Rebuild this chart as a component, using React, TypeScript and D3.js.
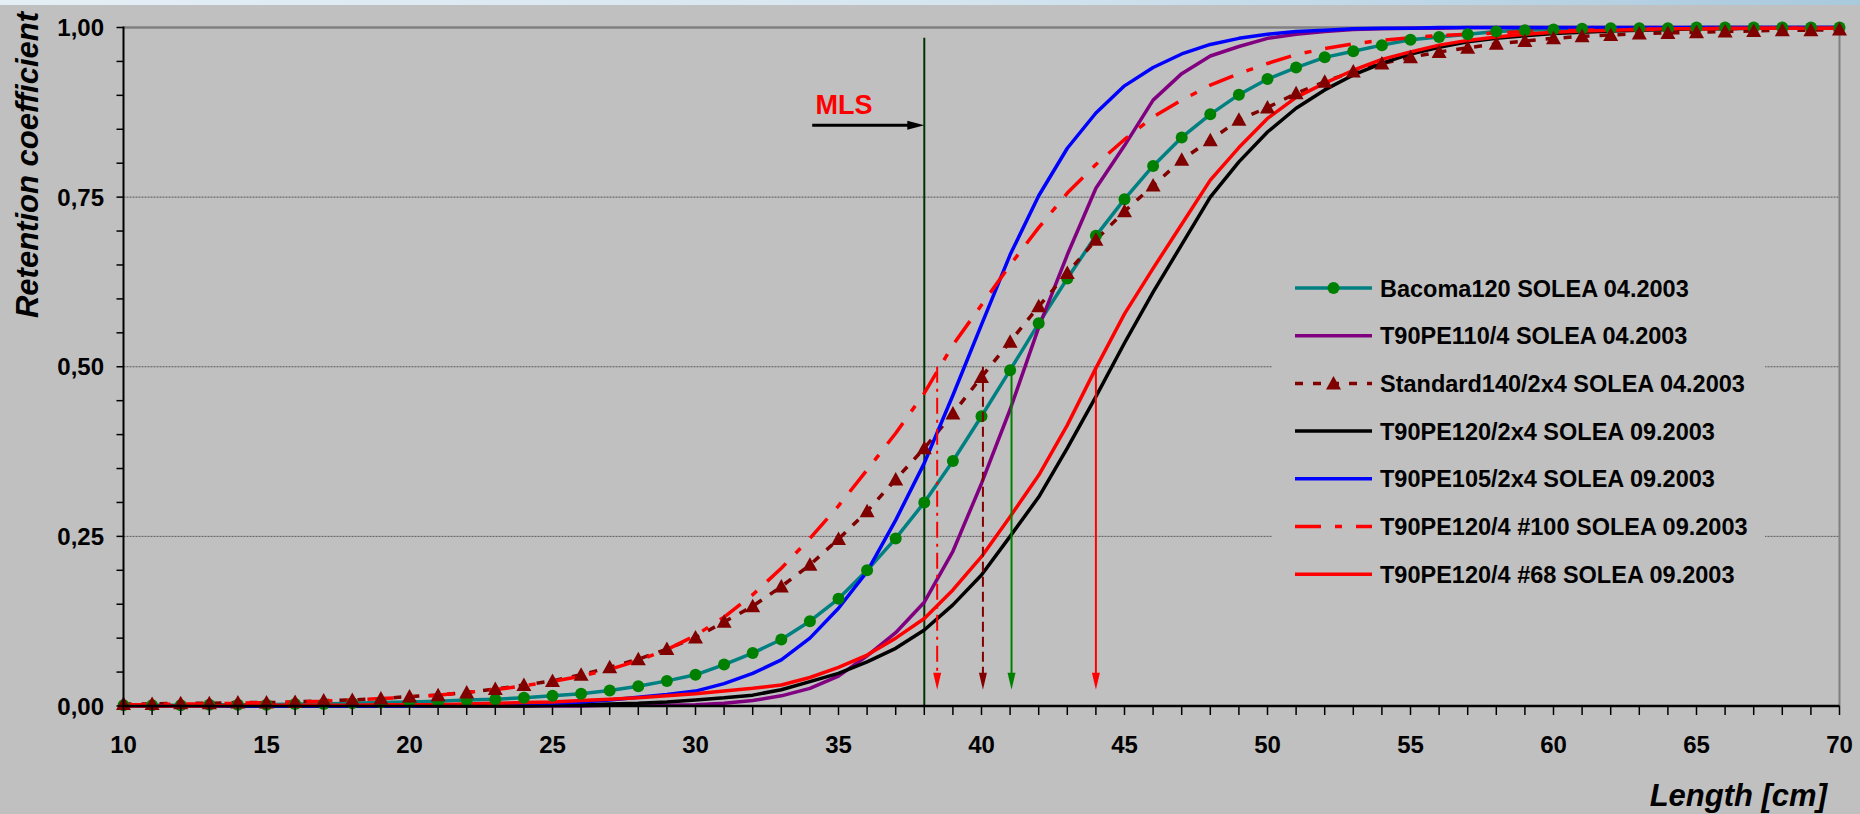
import React from 'react';
import * as d3 from 'd3';

// length classes (cm)
const lengths = [
  10, 11, 12, 13, 14, 15, 16, 17, 18, 19, 20, 21, 22, 23, 24, 25, 26, 27, 28, 29,
  30, 31, 32, 33, 34, 35, 36, 37, 38, 39, 40, 41, 42, 43, 44, 45, 46, 47, 48, 49,
  50, 51, 52, 53, 54, 55, 56, 57, 58, 59, 60, 61, 62, 63, 64, 65, 66, 67, 68, 69, 70,
];

// retention coefficients, one value per length class
const bacoma120 = [
  0.001, 0.001, 0.001, 0.002, 0.002, 0.002, 0.003, 0.003, 0.004, 0.005,
  0.006, 0.007, 0.009, 0.010, 0.012, 0.015, 0.018, 0.023, 0.029, 0.037,
  0.046, 0.061, 0.078, 0.098, 0.125, 0.158, 0.200, 0.247, 0.300, 0.361,
  0.427, 0.495, 0.564, 0.630, 0.693, 0.747, 0.796, 0.838, 0.872, 0.901,
  0.924, 0.941, 0.956, 0.965, 0.974, 0.982, 0.986, 0.990, 0.994, 0.996,
  0.997, 0.998, 0.999, 0.999, 0.999, 1.0, 1.0, 1.0, 1.0, 1.0, 1.0,
];
const t90pe110 = [
  0, 0, 0, 0, 0, 0, 0, 0, 0, 0,
  0, 0, 0, 0, 0, 0, 0, 0.001, 0.001, 0.001,
  0.002, 0.004, 0.008, 0.015, 0.026, 0.044, 0.074, 0.108, 0.153, 0.228,
  0.328, 0.437, 0.558, 0.665, 0.763, 0.826, 0.893, 0.932, 0.958, 0.972,
  0.984, 0.990, 0.994, 0.997, 0.998, 0.999, 0.999, 1.0, 1.0, 1.0,
  1.0, 1.0, 1.0, 1.0, 1.0, 1.0, 1.0, 1.0, 1.0, 1.0, 1.0,
];
const standard140 = [
  0.003, 0.003, 0.004, 0.004, 0.005, 0.005, 0.006, 0.008, 0.009, 0.011,
  0.014, 0.016, 0.020, 0.025, 0.031, 0.037, 0.046, 0.057, 0.069, 0.084,
  0.101, 0.124, 0.147, 0.176, 0.208, 0.246, 0.287, 0.334, 0.380, 0.431,
  0.485, 0.537, 0.589, 0.638, 0.687, 0.729, 0.767, 0.805, 0.834, 0.864,
  0.882, 0.903, 0.920, 0.935, 0.947, 0.956, 0.964, 0.970, 0.976, 0.980,
  0.984, 0.987, 0.989, 0.991, 0.992, 0.993, 0.994, 0.995, 0.996, 0.996, 0.997,
];
const t90pe120x2 = [
  0, 0, 0, 0, 0, 0, 0, 0, 0, 0,
  0, 0, 0, 0, 0, 0.001, 0.002, 0.003, 0.004, 0.006,
  0.009, 0.012, 0.016, 0.024, 0.036, 0.048, 0.065, 0.085, 0.112, 0.149,
  0.193, 0.250, 0.308, 0.380, 0.456, 0.535, 0.610, 0.680, 0.750, 0.802,
  0.846, 0.881, 0.908, 0.930, 0.947, 0.961, 0.971, 0.979, 0.984, 0.988,
  0.991, 0.993, 0.995, 0.996, 0.997, 0.998, 0.998, 0.999, 0.999, 0.999, 0.999,
];
const t90pe105 = [
  0, 0, 0, 0, 0, 0, 0, 0, 0, 0,
  0, 0.001, 0.001, 0.002, 0.003, 0.004, 0.006, 0.009, 0.013, 0.017,
  0.022, 0.033, 0.048, 0.068, 0.100, 0.144, 0.198, 0.274, 0.358, 0.458,
  0.562, 0.665, 0.752, 0.822, 0.874, 0.914, 0.941, 0.961, 0.975, 0.984,
  0.990, 0.994, 0.996, 0.998, 0.999, 0.999, 1.0, 1.0, 1.0, 1.0,
  1.0, 1.0, 1.0, 1.0, 1.0, 1.0, 1.0, 1.0, 1.0, 1.0, 1.0,
];
const t90pe120n100 = [
  0.002, 0.002, 0.003, 0.003, 0.004, 0.005, 0.006, 0.007, 0.009, 0.011,
  0.013, 0.016, 0.020, 0.024, 0.030, 0.036, 0.044, 0.054, 0.067, 0.083,
  0.104, 0.131, 0.164, 0.203, 0.247, 0.295, 0.348, 0.402, 0.461, 0.532,
  0.591, 0.650, 0.705, 0.756, 0.798, 0.835, 0.868, 0.893, 0.915, 0.932,
  0.947, 0.960, 0.969, 0.976, 0.981, 0.985, 0.988, 0.990, 0.992, 0.994,
  0.995, 0.996, 0.997, 0.997, 0.998, 0.998, 0.998, 0.999, 0.999, 0.999, 0.999,
];
const t90pe120n68 = [
  0, 0, 0, 0, 0.001, 0.001, 0.001, 0.001, 0.001, 0.002,
  0.002, 0.002, 0.003, 0.004, 0.005, 0.006, 0.008, 0.010, 0.012, 0.015,
  0.018, 0.022, 0.026, 0.031, 0.042, 0.057, 0.075, 0.100, 0.129, 0.171,
  0.220, 0.279, 0.340, 0.414, 0.498, 0.578, 0.645, 0.710, 0.775, 0.823,
  0.866, 0.897, 0.918, 0.937, 0.953, 0.964, 0.974, 0.981, 0.986, 0.990,
  0.993, 0.995, 0.996, 0.997, 0.998, 0.998, 0.999, 0.999, 0.999, 0.999, 0.999,
];

// annotations: minimum landing size and L50 arrows
const mls = 38;
const l50 = [38.45, 40.05, 41.05, 44.0];

const yTicks = [0, 0.25, 0.5, 0.75, 1];
const yMinor = [0.05, 0.1, 0.15, 0.2, 0.3, 0.35, 0.4, 0.45, 0.55, 0.6, 0.65, 0.7, 0.8, 0.85, 0.9, 0.95];
const xLabels = [10, 15, 20, 25, 30, 35, 40, 45, 50, 55, 60, 65, 70];

const series = [
  { name: 'Bacoma120 SOLEA 04.2003', values: bacoma120, color: '#008080', dash: null, marker: 'circle' },
  { name: 'T90PE110/4 SOLEA 04.2003', values: t90pe110, color: '#800080', dash: null, marker: null },
  { name: 'Standard140/2x4 SOLEA 04.2003', values: standard140, color: '#800000', dash: '8,10', marker: 'triangle' },
  { name: 'T90PE120/2x4 SOLEA 09.2003', values: t90pe120x2, color: '#000000', dash: null, marker: null },
  { name: 'T90PE105/2x4 SOLEA 09.2003', values: t90pe105, color: '#0000FF', dash: null, marker: null },
  { name: 'T90PE120/4 #100 SOLEA 09.2003', values: t90pe120n100, color: '#FF0000', dash: '26,14,7,14', marker: null },
  { name: 'T90PE120/4 #68 SOLEA 09.2003', values: t90pe120n68, color: '#FF0000', dash: null, marker: null },
];

const arrowStyles = [
  { color: '#FF0000', dash: '16,6,3,6' },
  { color: '#800000', dash: '10,5' },
  { color: '#008000', dash: null },
  { color: '#FF0000', dash: null },
];

const font = "'Liberation Sans', Arial, Helvetica, sans-serif";

// Excel-like triangle marker
const triPath = (cx: number, cy: number) =>
  `M${cx},${cy - 7.5} L${cx + 7.5},${cy + 6} L${cx - 7.5},${cy + 6} Z`;

export default function App() {
  const W = 1860;
  const H = 814;
  const x = d3.scaleLinear().domain([10, 70]).range([123.5, 1839.5]);
  const y = d3.scaleLinear().domain([0, 1]).range([706, 27.5]);
  const fmt = (v: number) => d3.format('.2f')(v).replace('.', ',');

  const line = (vals: number[]) =>
    d3.line<number>()
      .x((_, i) => x(lengths[i]))
      .y((d) => y(d))(vals) || '';

  const legendX0 = 1295;
  const legendX1 = 1372;
  const legendY = (i: number) => 288 + i * 47.7;

  return (
    <div style={{ position: 'absolute', left: 0, top: 0 }}>
      <svg width={W} height={H} style={{ display: 'block' }}>
        <defs>
          <linearGradient id="topband" x1="0" x2="1" y1="0" y2="0">
            <stop offset="0" stopColor="#e4eef5" />
            <stop offset="0.5" stopColor="#d6e6f0" />
            <stop offset="1" stopColor="#a9c9dd" />
          </linearGradient>
        </defs>
        <rect x={0} y={0} width={W} height={H} fill="#C0C0C0" />
        <rect x={0} y={0} width={W} height={5} fill="url(#topband)" />

        {/* gridlines */}
        {[0.25, 0.5, 0.75].map((t) => (
          <line key={t} x1={x(10)} x2={x(70)} y1={y(t)} y2={y(t)}
            stroke="#5a5a5a" strokeWidth={1} strokeDasharray="2,1" />
        ))}
        {/* plot frame (top and right) */}
        <line x1={x(10)} x2={x(70)} y1={y(1)} y2={y(1)} stroke="#808080" strokeWidth={2.5} />
        <line x1={x(70)} x2={x(70)} y1={y(1)} y2={y(0)} stroke="#808080" strokeWidth={2} />

        {/* legend background hides gridlines */}
        <rect x={1272} y={250} width={493} height={355} fill="#C0C0C0" />

        {/* MLS vertical line */}
        <line x1={x(mls)} x2={x(mls)} y1={y(0.985)} y2={y(0)} stroke="#003300" strokeWidth={2} />

        {/* series lines */}
        {series.map((s) => (
          <path key={s.name} d={line(s.values)} fill="none" stroke={s.color}
            strokeWidth={3.5} strokeDasharray={s.dash || undefined} strokeLinejoin="round" />
        ))}
        {/* markers */}
        {series.map((s) =>
          s.marker === 'circle'
            ? s.values.map((v, i) => (
                <circle key={s.name + i} cx={x(lengths[i])} cy={y(v)} r={6} fill="#008000" />
              ))
            : s.marker === 'triangle'
            ? s.values.map((v, i) => (
                <path key={s.name + i} d={triPath(x(lengths[i]), y(v))} fill="#800000" />
              ))
            : null
        )}

        {/* L50 arrows */}
        {l50.map((v, i) => {
          const st = arrowStyles[i];
          const cx = x(v);
          const tip = y(0.024);
          return (
            <g key={v}>
              <line x1={cx} x2={cx} y1={y(0.5)} y2={tip - 14} stroke={st.color}
                strokeWidth={2} strokeDasharray={st.dash || undefined} />
              <path d={`M${cx - 4},${tip - 17} L${cx + 4},${tip - 17} L${cx},${tip} Z`} fill={st.color} />
            </g>
          );
        })}

        {/* MLS label and arrow */}
        <text x={x(34.2)} y={114} fill="#FF0000" fontFamily={font} fontWeight="bold" fontSize={27}>MLS</text>
        <line x1={x(34.08)} x2={x(mls) - 14} y1={y(0.856)} y2={y(0.856)} stroke="#000" strokeWidth={3} />
        <path d={`M${x(mls) - 17},${y(0.856) - 4.5} L${x(mls)},${y(0.856)} L${x(mls) - 17},${y(0.856) + 4.5} Z`} fill="#000" />

        {/* axes */}
        <line x1={x(10)} x2={x(10)} y1={y(1) - 1} y2={y(0)} stroke="#000" strokeWidth={2} />
        <line x1={x(10) - 1} x2={x(70)} y1={y(0)} y2={y(0)} stroke="#000" strokeWidth={2.5} />
        {[...yTicks, ...yMinor].map((t) => (
          <line key={'yt' + t} x1={x(10) - 7} x2={x(10)} y1={y(t)} y2={y(t)} stroke="#000" strokeWidth={1.5} />
        ))}
        {yTicks.map((t) => (
          <text key={'yl' + t} x={104} y={y(t)} dy="0.36em" textAnchor="end"
            fontFamily={font} fontWeight="bold" fontSize={24} fill="#000">{fmt(t)}</text>
        ))}
        {lengths.map((l) => (
          <line key={'xt' + l} x1={x(l)} x2={x(l)} y1={y(0)} y2={y(0) + 9} stroke="#000" strokeWidth={1.5} />
        ))}
        {xLabels.map((l) => (
          <text key={'xl' + l} x={x(l)} y={753} textAnchor="middle"
            fontFamily={font} fontWeight="bold" fontSize={24} fill="#000">{l}</text>
        ))}

        {/* axis titles */}
        <text transform="translate(38,165) rotate(-90)" textAnchor="middle" fontFamily={font}
          fontWeight="bold" fontStyle="italic" fontSize={31} fill="#000">Retention coefficient</text>
        <text x={1827} y={806} textAnchor="end" fontFamily={font} fontWeight="bold"
          fontStyle="italic" fontSize={31} fill="#000">Length [cm]</text>

        {/* legend */}
        {series.map((s, i) => {
          const ly = legendY(i);
          const mid = (legendX0 + legendX1) / 2;
          return (
            <g key={'lg' + s.name}>
              <line x1={legendX0} x2={legendX1} y1={ly} y2={ly} stroke={s.color} strokeWidth={3.5}
                strokeDasharray={s.dash || undefined} />
              {s.marker === 'circle' && <circle cx={mid} cy={ly} r={6} fill="#008000" />}
              {s.marker === 'triangle' && <path d={triPath(mid, ly)} fill="#800000" />}
              <text x={1380} y={ly + 8.5} fontFamily={font} fontWeight="bold" fontSize={23.5} fill="#000">
                {s.name}
              </text>
            </g>
          );
        })}
      </svg>
    </div>
  );
}
